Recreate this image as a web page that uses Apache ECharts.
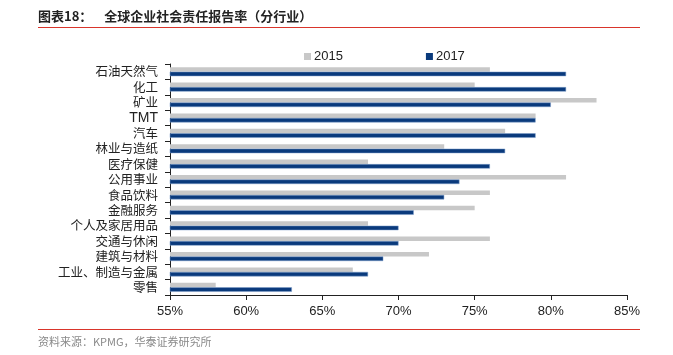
<!DOCTYPE html>
<html><head><meta charset="utf-8">
<script src="https://cdn.jsdelivr.net/npm/echarts@6/dist/echarts.min.js"></script>
<style>html,body{margin:0;padding:0;background:#fff}#c{width:673px;height:355px}</style>
</head><body><div id="c"></div>
<script>
const categories = ['石油天然气','化工','矿业','TMT','汽车','林业与造纸','医疗保健','公用事业','食品饮料','金融服务','个人及家居用品','交通与休闲','建筑与材料','工业、制造与金属','零售'];
const values2015 = [76,75,83,79,77,73,68,81,76,75,68,76,72,67,58];
const values2017 = [81,81,80,79,79,77,76,74,73,71,70,70,69,68,63];
const xTicks = [55,60,65,70,75,80,85];
const seriesNames = ['2015','2017'];

const chart = echarts.init(document.getElementById('c'), null, {renderer:'canvas'});
chart.setOption({
  animation:false,
  graphic:[
    {type:'text', left:38, top:10, style:{text:'图表18：    全球企业社会责任报告率（分行业）', font:'bold 13px "Noto Sans CJK SC", sans-serif', fill:'#222'}},
    {type:'line', shape:{x1:38,y1:27.5,x2:640,y2:27.5}, style:{stroke:'#d9352b', lineWidth:1}},
    {type:'line', shape:{x1:38,y1:329.5,x2:640,y2:329.5}, style:{stroke:'#d9352b', lineWidth:1}},
    {type:'text', left:38, top:336, style:{text:'资料来源：KPMG，华泰证券研究所', font:'11px "Noto Sans CJK SC", sans-serif', fill:'#8a8a8a'}}
  ],
  legend:{
    top:45, left:299, itemWidth:7, itemHeight:7, itemGap:83,
    data:seriesNames.map(n=>({name:n, itemStyle:{borderWidth:0}})),
    icon:'rect',
    textStyle:{fontFamily:'Liberation Sans, Arial', fontSize:13, color:'#222', padding:[0,0,0,-2]}
  },
  grid:{left:170, right:46, top:64, bottom:60},
  xAxis:{
    type:'value', min:xTicks[0], max:xTicks[xTicks.length-1], interval:5,
    axisLine:{show:true, lineStyle:{color:'#222'}},
    axisTick:{show:true, length:5, lineStyle:{color:'#222'}},
    splitLine:{show:false},
    axisLabel:{formatter:v=>v+'%', fontFamily:'Liberation Sans, Arial', fontSize:13, color:'#222', margin:10}
  },
  yAxis:{
    type:'category', data:categories, inverse:true,
    axisLine:{show:true, lineStyle:{color:'#222'}},
    axisTick:{show:true, length:5, interval:0, lineStyle:{color:'#222'}},
    axisLabel:{interval:0, fontFamily:'"Noto Sans CJK SC", sans-serif', fontSize:12.5, color:'#222', margin:12,
      formatter:v=>/^[A-Za-z]+$/.test(v) ? '{en|'+v+'}' : v,
      rich:{en:{fontFamily:'Liberation Sans, Arial', fontSize:14, color:'#222'}}}
  },
  series:[
    {name:seriesNames[0], type:'bar', data:values2015, barWidth:4.5, barGap:'0%', itemStyle:{color:'#c8c8c8'}},
    {name:seriesNames[1], type:'bar', data:values2017, barWidth:4.5, barGap:'0%', itemStyle:{color:'#0a3a7c', borderColor:'#7d9cc8', borderWidth:0.5}}
  ]
});
</script></body></html>
